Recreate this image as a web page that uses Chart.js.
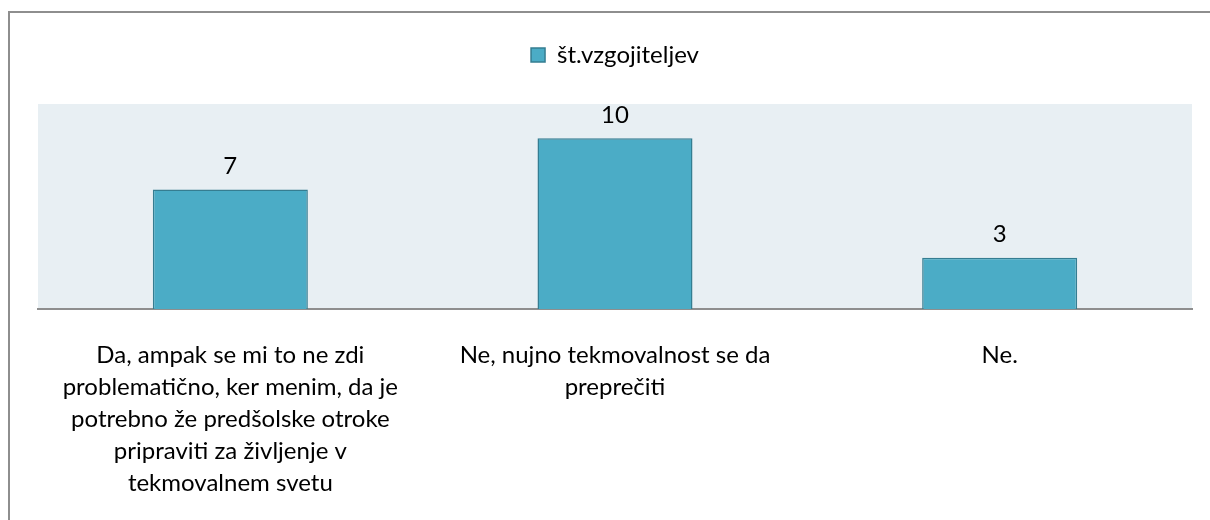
<!DOCTYPE html>
<html>

<head>
    <meta charset="utf-8">
    <script src="https://cdn.jsdelivr.net/npm/chart.js@4/dist/chart.umd.min.js"></script>
</head>

<style>
    body {
        margin: 0;
        background: white;
        overflow: hidden;
    }

    .frame {
        position: absolute;
        left: 8px;
        top: 11px;
        width: 1400px;
        height: 700px;
        border-left: 2px solid #8e8e8e;
        border-top: 2px solid #8e8e8e;
    }

    .holder {
        position: absolute;
        left: 0;
        top: 0;
        width: 1210px;
        height: 520px;
    }
</style>

<body>
    <div class="frame"></div>
    <div class="holder">
        <canvas id="myChart" width="1210" height="520"></canvas>
    </div>
</body>

<script>
    var seriesName = 'št.vzgojiteljev';
    var categories = [
        ['Da, ampak se mi to ne zdi', 'problematično, ker menim, da je', 'potrebno že predšolske otroke', 'pripraviti za življenje v', 'tekmovalnem svetu'],
        ['Ne, nujno tekmovalnost se da', 'preprečiti'],
        ['Ne.']
    ];
    var values = [7, 10, 3];

    var fontName = 'Lato, "Open Sans", sans-serif';

    // light plot background
    var plotBg = {
        id: 'plotBg',
        beforeDraw: function (chart) {
            var a = chart.chartArea;
            var ctx = chart.ctx;
            ctx.save();
            ctx.fillStyle = '#e8eff3';
            ctx.fillRect(a.left, a.top, a.right - a.left, a.bottom - a.top);
            ctx.restore();
        }
    };

    // numbers above bars
    var valueLabels = {
        id: 'valueLabels',
        afterDatasetsDraw: function (chart) {
            var ctx = chart.ctx;
            var meta = chart.getDatasetMeta(0);
            ctx.save();
            ctx.font = '24px ' + fontName;
            ctx.fillStyle = '#000';
            ctx.textAlign = 'center';
            ctx.textBaseline = 'bottom';
            meta.data.forEach(function (bar, i) {
                ctx.fillText(values[i], bar.x, bar.y - 11);
            });
            ctx.restore();
        }
    };

    // push the plot down below the legend
    var legendGap = {
        id: 'legendGap',
        beforeInit: function (chart) {
            var fit = chart.legend.fit;
            chart.legend.fit = function () {
                fit.bind(chart.legend)();
                this.height += 27;
            };
        }
    };

    Chart.defaults.animation = false;
    var ctx = document.getElementById('myChart').getContext('2d');
    var chart = new Chart(ctx, {
        type: 'bar',
        data: {
            labels: categories,
            datasets: [{
                label: seriesName,
                data: values,
                backgroundColor: '#4bacc6',
                borderColor: '#357d91',
                borderWidth: 1.5,
                categoryPercentage: 1,
                barPercentage: 0.403
            }]
        },
        options: {
            responsive: false,
            maintainAspectRatio: false,
            layout: {
                padding: { top: 43, left: 38, right: 18, bottom: 0 }
            },
            plugins: {
                legend: {
                    display: true,
                    position: 'top',
                    labels: {
                        font: { family: fontName, size: 24 },
                        color: '#000',
                        boxWidth: 14,
                        boxHeight: 14,
                        padding: 0
                    }
                },
                tooltip: { enabled: false }
            },
            scales: {
                x: {
                    grid: { display: false },
                    border: { display: true, color: '#8e8e8e', width: 2 },
                    ticks: {
                        maxRotation: 0,
                        autoSkip: false,
                        color: '#000',
                        padding: 22,
                        font: { family: fontName, size: 24, lineHeight: '32px' }
                    },
                    afterFit: function (scale) {
                        scale.height = 211;
                    }
                },
                y: {
                    display: false,
                    min: 0,
                    max: 12
                }
            }
        },
        plugins: [plotBg, valueLabels, legendGap]
    });
</script>

</html>
